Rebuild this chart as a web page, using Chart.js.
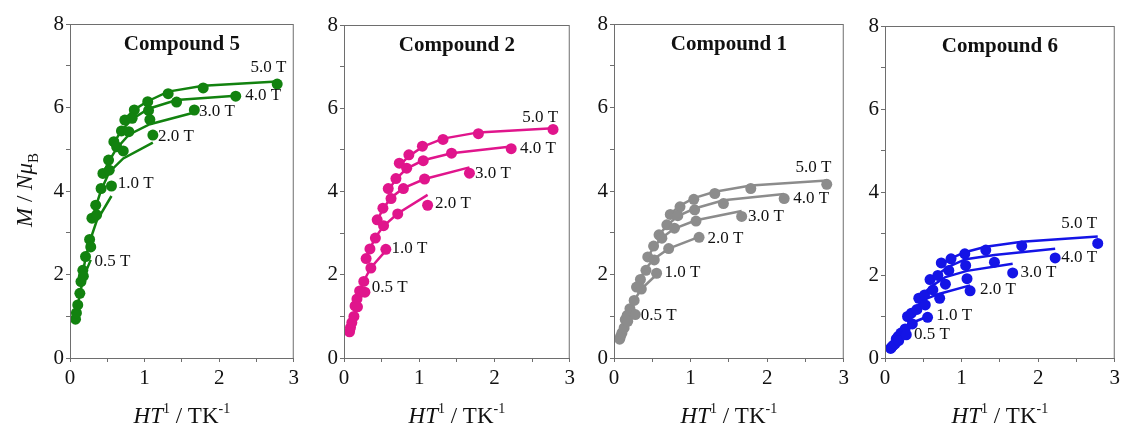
<!DOCTYPE html>
<html>
<head>
<meta charset="utf-8">
<script src="https://cdn.jsdelivr.net/npm/chart.js@4/dist/chart.umd.min.js"></script>
<style>
  body { margin: 0; background: #fff; width: 1123px; height: 428px; overflow: hidden; position: relative; }
  canvas { position: absolute; top: 0; }
</style>
</head>
<body>
<canvas id="c5" width="303" height="428" style="left:0px"></canvas>
<canvas id="c2" width="279" height="428" style="left:300px"></canvas>
<canvas id="c1" width="277" height="428" style="left:576px"></canvas>
<canvas id="c6" width="274" height="428" style="left:850px"></canvas>
<script>
// field labels
const fields = ['0.5 T', '1.0 T', '2.0 T', '3.0 T', '4.0 T', '5.0 T'];

// HT^-1 values for each field (same temperatures in every panel)
const x05 = [0.074, 0.086, 0.104, 0.132, 0.179, 0.278];
const x10 = [0.147, 0.172, 0.208, 0.263, 0.357, 0.556];
const x20 = [0.294, 0.345, 0.417, 0.526, 0.714, 1.111];
const x30 = [0.441, 0.517, 0.625, 0.789, 1.071, 1.667];
const x40 = [0.588, 0.690, 0.833, 1.053, 1.429, 2.222];
const x50 = [0.735, 0.862, 1.042, 1.316, 1.786, 2.778];
const xs = [x05, x10, x20, x30, x40, x50];

// Compound 5
const c5Exp = [
  [0.93, 1.08, 1.27, 1.55, 1.96, 2.66],
  [1.83, 2.10, 2.43, 2.84, 3.43, 4.12],
  [3.35, 3.66, 4.06, 4.50, 4.96, 5.34],
  [4.42, 4.74, 5.06, 5.42, 5.71, 5.94],
  [5.18, 5.44, 5.74, 5.93, 6.13, 6.27],
  [5.70, 5.94, 6.14, 6.33, 6.47, 6.56]
];
const c5Fit = [
  [0.92, 1.07, 1.25, 1.52, 1.92, 2.35],
  [1.80, 2.05, 2.38, 2.78, 3.28, 3.88],
  [3.30, 3.62, 4.02, 4.45, 4.78, 5.16],
  [4.40, 4.70, 5.02, 5.35, 5.60, 5.88],
  [5.15, 5.45, 5.72, 5.97, 6.18, 6.28],
  [5.72, 5.95, 6.15, 6.38, 6.52, 6.62]
];
const c5TagX = [0.33, 0.64, 1.18, 1.73, 2.35, 2.42];
const c5TagY = [2.30, 4.17, 5.30, 5.90, 6.28, 6.95];

// Compound 2
const c2Exp = [
  [0.63, 0.73, 0.85, 1.00, 1.23, 1.58],
  [1.25, 1.42, 1.61, 1.84, 2.16, 2.61],
  [2.39, 2.62, 2.88, 3.18, 3.46, 3.67],
  [3.32, 3.60, 3.83, 4.07, 4.30, 4.44],
  [4.07, 4.31, 4.56, 4.74, 4.92, 5.03],
  [4.68, 4.88, 5.09, 5.25, 5.39, 5.49]
];
const c2Fit = [
  [0.60, 0.70, 0.85, 1.02, 1.27, 1.65],
  [1.22, 1.40, 1.60, 1.85, 2.17, 2.58],
  [2.38, 2.62, 2.90, 3.17, 3.47, 3.92],
  [3.30, 3.58, 3.85, 4.08, 4.30, 4.58],
  [4.02, 4.30, 4.55, 4.75, 4.92, 5.08],
  [4.62, 4.85, 5.07, 5.27, 5.42, 5.52]
];
const c2TagX = [0.37, 0.63, 1.21, 1.74, 2.34, 2.37];
const c2TagY = [1.69, 2.62, 3.70, 4.44, 5.04, 5.78];

// Compound 1
const c1Exp = [
  [0.45, 0.52, 0.60, 0.72, 0.88, 1.04],
  [0.92, 1.02, 1.18, 1.38, 1.65, 2.03],
  [1.70, 1.88, 2.10, 2.35, 2.62, 2.89],
  [2.42, 2.68, 2.87, 3.11, 3.28, 3.39],
  [2.95, 3.19, 3.41, 3.55, 3.70, 3.82],
  [3.44, 3.62, 3.80, 3.94, 4.06, 4.16]
];
const c1Fit = [
  [0.45, 0.52, 0.60, 0.72, 0.88, 1.08],
  [0.92, 1.03, 1.18, 1.38, 1.65, 2.00],
  [1.70, 1.90, 2.15, 2.38, 2.62, 2.90],
  [2.42, 2.65, 2.88, 3.10, 3.30, 3.52],
  [2.95, 3.17, 3.40, 3.58, 3.78, 3.93],
  [3.45, 3.65, 3.83, 3.98, 4.13, 4.25]
];
const c1TagX = [0.35, 0.66, 1.22, 1.75, 2.34, 2.37];
const c1TagY = [1.02, 2.04, 2.87, 3.40, 3.82, 4.56];

// Compound 6
const c6Exp = [
  [0.23, 0.26, 0.30, 0.34, 0.42, 0.56],
  [0.46, 0.52, 0.60, 0.70, 0.82, 0.98],
  [1.00, 1.08, 1.17, 1.28, 1.44, 1.62],
  [1.44, 1.52, 1.64, 1.78, 1.91, 2.05],
  [1.89, 1.99, 2.11, 2.23, 2.31, 2.41],
  [2.29, 2.39, 2.51, 2.60, 2.70, 2.76]
];
const c6Fit = [
  [0.24, 0.28, 0.32, 0.37, 0.45, 0.58],
  [0.47, 0.54, 0.63, 0.74, 0.85, 1.00],
  [0.98, 1.10, 1.25, 1.42, 1.55, 1.75],
  [1.42, 1.58, 1.75, 1.95, 2.10, 2.27],
  [1.85, 2.02, 2.20, 2.38, 2.48, 2.63],
  [2.25, 2.40, 2.55, 2.68, 2.80, 2.93]
];
const c6TagX = [0.38, 0.67, 1.24, 1.77, 2.30, 2.30];
const c6TagY = [0.57, 1.02, 1.64, 2.05, 2.43, 3.24];

const serif = "'Liberation Serif', 'Times New Roman', serif";

function pts(xv, yv) {
  return xv.map((x, i) => ({ x: x, y: yv[i] }));
}

// draws a list of text pieces with their own fonts and vertical shifts
function richText(ctx, parts, x, y, align) {
  let total = 0;
  parts.forEach(p => { ctx.font = p.f; p.w = ctx.measureText(p.t).width; total += p.w; });
  let cx = align === 'center' ? x - total / 2 : x;
  ctx.textAlign = 'left';
  ctx.textBaseline = 'alphabetic';
  parts.forEach(p => {
    ctx.font = p.f;
    ctx.fillText(p.t, cx, y + (p.dy || 0));
    cx += p.w;
  });
}

const decor = {
  id: 'decor',
  afterDraw(chart) {
    const o = chart.options.plugins.decor;
    const ctx = chart.ctx;
    const a = chart.chartArea;
    const sx = chart.scales.x, sy = chart.scales.y;
    ctx.save();
    // frame
    ctx.strokeStyle = '#6e6e6e';
    ctx.lineWidth = 1;
    ctx.strokeRect(a.left + 0.5, a.top + 0.5, a.right - a.left - 1, a.bottom - a.top);
    ctx.fillStyle = '#111';
    // title
    ctx.font = 'bold 21px ' + serif;
    ctx.textAlign = 'center';
    ctx.textBaseline = 'alphabetic';
    ctx.fillText(o.title, (a.left + a.right) / 2, a.top + 26);
    // field tags
    ctx.font = '17px ' + serif;
    ctx.textAlign = 'left';
    ctx.textBaseline = 'middle';
    o.tagX.forEach((tx, i) => {
      ctx.fillText(fields[i], sx.getPixelForValue(tx), sy.getPixelForValue(o.tagY[i]));
    });
    // x axis title
    richText(ctx, [
      { t: 'HT', f: 'italic 23px ' + serif },
      { t: '1', f: '14px ' + serif, dy: -10 },
      { t: ' / TK', f: '23px ' + serif },
      { t: '-1', f: '14px ' + serif, dy: -10 }
    ], (a.left + a.right) / 2, 423, 'center');
    // y axis title, only first panel
    if (o.yTitle) {
      ctx.translate(32, 190);
      ctx.rotate(-Math.PI / 2);
      richText(ctx, [
        { t: 'M', f: 'italic 23px ' + serif },
        { t: ' / ', f: '23px ' + serif },
        { t: 'N', f: 'italic 23px ' + serif },
        { t: 'μ', f: 'italic 23px ' + serif },
        { t: 'B', f: '15px ' + serif, dy: 6 }
      ], 0, 0, 'center');
    }
    ctx.restore();
  }
};

function makePanel(id, title, color, exp, fit, tagX, tagY, yW, padR, padT, yTitle) {
  const datasets = [];
  exp.forEach((row, i) => {
    datasets.push({
      label: fields[i],
      data: pts(xs[i], row),
      backgroundColor: color,
      borderWidth: 0,
      pointRadius: 5.5,
      showLine: false
    });
  });
  fit.forEach((row, i) => {
    datasets.push({
      label: fields[i] + ' fit',
      data: pts(xs[i], row),
      borderColor: color,
      borderWidth: 2.5,
      pointRadius: 0,
      showLine: true,
      tension: 0
    });
  });
  const tickFont = { family: serif, size: 21 };
  return new Chart(document.getElementById(id), {
    type: 'scatter',
    data: { datasets: datasets },
    options: {
      responsive: false,
      animation: false,
      layout: { padding: { top: padT, right: padR, left: 0, bottom: 0 } },
      plugins: {
        legend: { display: false },
        tooltip: { enabled: false },
        decor: { title: title, tagX: tagX, tagY: tagY, yTitle: yTitle }
      },
      scales: {
        x: {
          type: 'linear', min: 0, max: 3,
          afterFit: s => { s.height = 428 - 358; },
          border: { color: '#6e6e6e' },
          grid: { drawOnChartArea: false, tickLength: 4, tickColor: '#6e6e6e' },
          ticks: {
            stepSize: 0.5, autoSkip: false, maxRotation: 0, padding: 4,
            color: '#111', font: tickFont,
            callback: v => Number.isInteger(v) ? v : ''
          }
        },
        y: {
          min: 0, max: 8,
          afterFit: s => { s.width = yW; },
          border: { color: '#6e6e6e' },
          grid: { drawOnChartArea: false, tickLength: 4, tickColor: '#6e6e6e' },
          ticks: {
            stepSize: 1, autoSkip: false, padding: 2,
            color: '#111', font: tickFont,
            callback: v => v % 2 === 0 ? v : ''
          }
        }
      }
    },
    plugins: [decor]
  });
}

makePanel('c5', 'Compound 5', '#12820f', c5Exp, c5Fit, c5TagX, c5TagY, 70, 7, 24, true);
makePanel('c2', 'Compound 2', '#e0158c', c2Exp, c2Fit, c2TagX, c2TagY, 44, 7, 25, false);
makePanel('c1', 'Compound 1', '#8c8c8c', c1Exp, c1Fit, c1TagX, c1TagY, 38, 7, 24, false);
makePanel('c6', 'Compound 6', '#1414e6', c6Exp, c6Fit, c6TagX, c6TagY, 35, 7, 26, false);
</script>
</body>
</html>
